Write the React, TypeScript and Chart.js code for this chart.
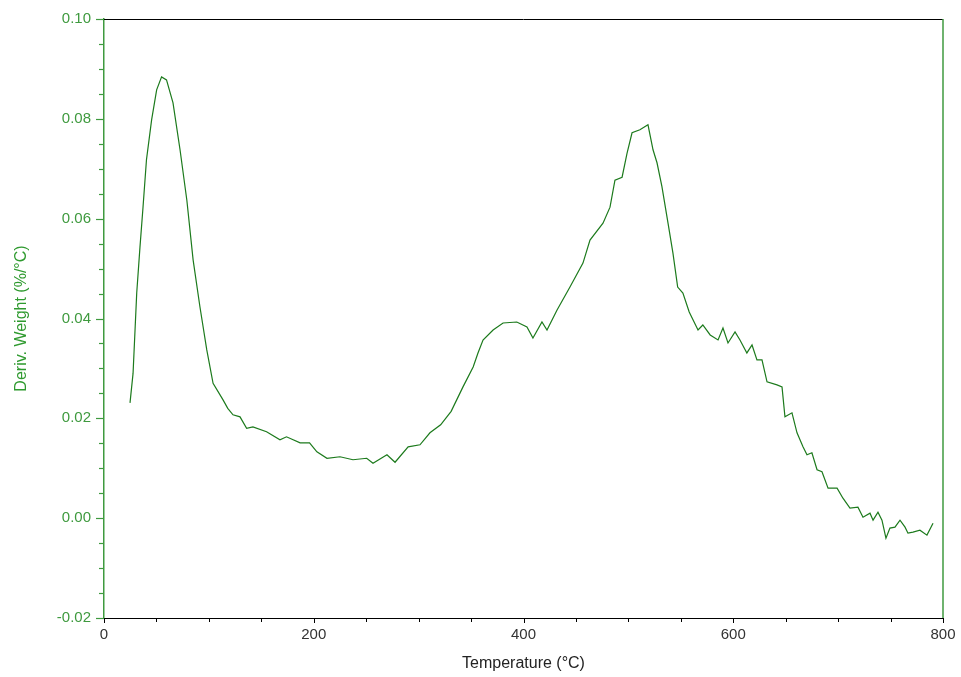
import React, { useEffect, useRef } from "react";
import { Chart, registerables } from "chart.js";

Chart.register(...registerables);

const temperatures: number[] = [
  24.8, 27.7, 31.2, 34.3, 37.2, 40.5, 45.4, 50.2, 54.9, 59.6, 65.8, 72.5, 79, 85, 91.5, 98,
  104, 113.5, 118, 123, 129.7, 136, 142, 155, 167.8, 174, 187, 196, 203, 212.6, 225, 237.4,
  250.5, 256.5, 269.8, 277.5, 290, 301.3, 310.8, 321, 331, 342.3, 352, 356.6, 361.4, 371,
  380.5, 393.6, 403.3, 409, 417.6, 422.4, 432, 444.3, 456.7, 463.4, 475.8, 482.5, 487.2, 494,
  498.7, 503.5, 511, 518.7, 523.5, 527.3, 532, 537.8, 542.5, 547, 552, 558, 566.4, 571, 578,
  585.5, 590.2, 595, 601.7, 606.4, 613, 617.9, 622.6, 627.4, 632.2, 641.7, 646.5, 649.3, 656,
  660.8, 666.5, 670.3, 675, 679.9, 684.6, 690.4, 699, 704.6, 711.3, 718.9, 723.7, 730.4, 733.3,
  738, 741.8, 745.6, 749.4, 754.2, 759, 763.8, 766.6, 771.4, 778, 784.7, 790.5,
];

const derivWeight: number[] = [
  0.0231, 0.029, 0.0451, 0.0543, 0.0623, 0.0718, 0.0798, 0.0858, 0.0884, 0.0878, 0.0832, 0.0738,
  0.0637, 0.0517, 0.0423, 0.0337, 0.027, 0.0237, 0.022, 0.0207, 0.0203, 0.018, 0.0183, 0.0173,
  0.0157, 0.0163, 0.0151, 0.0151, 0.0133, 0.012, 0.0123, 0.0117, 0.012, 0.011, 0.0127, 0.0112,
  0.0143, 0.0147, 0.0171, 0.0187, 0.0214, 0.0263, 0.0303, 0.0331, 0.0357, 0.0377, 0.0391, 0.0393,
  0.0383, 0.0361, 0.0393, 0.0377, 0.0417, 0.0463, 0.0511, 0.0557, 0.0591, 0.0623, 0.0677, 0.0683,
  0.0731, 0.0772, 0.0778, 0.0788, 0.0738, 0.0712, 0.0664, 0.0591, 0.0531, 0.0463, 0.0451, 0.0413,
  0.0377, 0.0387, 0.0367, 0.0357, 0.0381, 0.0351, 0.0373, 0.0357, 0.0331, 0.0347, 0.0317, 0.0317,
  0.0273, 0.0267, 0.0263, 0.0203, 0.0211, 0.0171, 0.0143, 0.0127, 0.0131, 0.0097, 0.0093, 0.006,
  0.006, 0.004, 0.002, 0.0022, 0.0002, 0.001, -0.0004, 0.0012, -0.0004, -0.004, -0.002, -0.0018,
  -0.0004, -0.0018, -0.003, -0.0028, -0.0024, -0.0034, -0.001,
];

const xMin = 0;
const xMax = 800;
const xMajorStep = 200;
const xMinorStep = 50;
const yMin = -0.02;
const yMax = 0.1;
const yMajorStep = 0.02;
const yMinorStep = 0.005;

const xTitle = "Temperature (°C)";
const yTitle = "Deriv. Weight (%/°C)";

const GREEN_AXIS = "#3f9a3f";
const GREEN_LINE = "#1c7a1c";
const FONT = "'Liberation Sans', Arial, sans-serif";

const isMultiple = (v: number, step: number) =>
  Math.abs(v / step - Math.round(v / step)) < 1e-6;

const framePlugin = {
  id: "frameAndTicks",
  afterDraw(chart: any) {
    const { ctx, chartArea, scales } = chart;
    const { left, right, top, bottom } = chartArea;
    ctx.save();
    ctx.strokeStyle = "#000";
    ctx.lineWidth = 1;
    ctx.beginPath();
    ctx.moveTo(left, top + 0.5);
    ctx.lineTo(right, top + 0.5);
    ctx.stroke();
    ctx.strokeStyle = GREEN_AXIS;
    ctx.lineWidth = 1.5;
    ctx.beginPath();
    ctx.moveTo(right, top);
    ctx.lineTo(right, bottom);
    ctx.stroke();
    ctx.strokeStyle = "#000";
    ctx.lineWidth = 1;
    for (let v = xMin; v <= xMax + 1e-9; v += xMinorStep) {
      const px = Math.round(scales.x.getPixelForValue(v)) + 0.5;
      const len = isMultiple(v, xMajorStep) ? 5 : 4;
      ctx.beginPath();
      ctx.moveTo(px, bottom);
      ctx.lineTo(px, bottom + len);
      ctx.stroke();
    }
    ctx.strokeStyle = GREEN_AXIS;
    ctx.lineWidth = 1.2;
    const n = Math.round((yMax - yMin) / yMinorStep);
    for (let i = 0; i <= n; i++) {
      const v = yMin + i * yMinorStep;
      const py = Math.round(scales.y.getPixelForValue(v)) + 0.5;
      const len = isMultiple(v, yMajorStep) ? 8 : 5;
      ctx.beginPath();
      ctx.moveTo(left - len, py);
      ctx.lineTo(left, py);
      ctx.stroke();
    }
    ctx.restore();
  },
};

export default function App() {
  const canvasRef = useRef<HTMLCanvasElement | null>(null);

  useEffect(() => {
    const canvas = canvasRef.current;
    if (!canvas) return;
    const points = temperatures.map((t, i) => ({ x: t, y: derivWeight[i] }));
    const chart = new Chart(canvas, {
      type: "line",
      data: {
        datasets: [
          {
            data: points,
            borderColor: GREEN_LINE,
            borderWidth: 1.2,
            pointRadius: 0,
            tension: 0,
            fill: false,
          },
        ],
      },
      options: {
        animation: false,
        responsive: true,
        maintainAspectRatio: false,
        layout: { padding: { left: 0, right: 18, top: 19, bottom: 0 } },
        plugins: {
          legend: { display: false },
          tooltip: { enabled: false },
        },
        scales: {
          x: {
            type: "linear",
            min: xMin,
            max: xMax,
            afterFit: (s: any) => {
              s.height = 59;
              s.paddingLeft = 0;
              s.paddingRight = 0;
            },
            border: { display: true, color: "#000", width: 1 },
            grid: { drawOnChartArea: false, drawTicks: false },
            ticks: {
              stepSize: xMinorStep,
              autoSkip: false,
              maxRotation: 0,
              padding: 8,
              color: "#333",
              font: { family: FONT, size: 15 },
              callback: (v: any) => (isMultiple(Number(v), xMajorStep) ? String(Math.round(Number(v))) : ""),
            },
            title: {
              display: true,
              text: xTitle,
              color: "#222",
              font: { family: FONT, size: 16 },
              padding: { top: 0, bottom: 3.5 },
            },
          },
          y: {
            type: "linear",
            min: yMin,
            max: yMax,
            afterFit: (s: any) => {
              s.width = 104;
              s.paddingTop = 0;
              s.paddingBottom = 0;
            },
            border: { display: true, color: GREEN_AXIS, width: 1.5 },
            grid: { drawOnChartArea: false, drawTicks: false },
            ticks: {
              stepSize: yMinorStep,
              autoSkip: false,
              padding: 13,
              color: GREEN_AXIS,
              font: { family: FONT, size: 15 },
              callback: (v: any) => (isMultiple(Number(v), yMajorStep) ? Number(v).toFixed(2) : ""),
            },
            title: {
              display: true,
              text: yTitle,
              color: "#2f9a2f",
              font: { family: FONT, size: 16 },
              padding: { top: 12, bottom: 0 },
            },
          },
        },
      },
      plugins: [framePlugin],
    });
    return () => chart.destroy();
  }, []);

  return (
    <div style={{ position: "fixed", left: 0, top: 0, width: 961, height: 677, background: "#fff" }}>
      <canvas ref={canvasRef} />
    </div>
  );
}
